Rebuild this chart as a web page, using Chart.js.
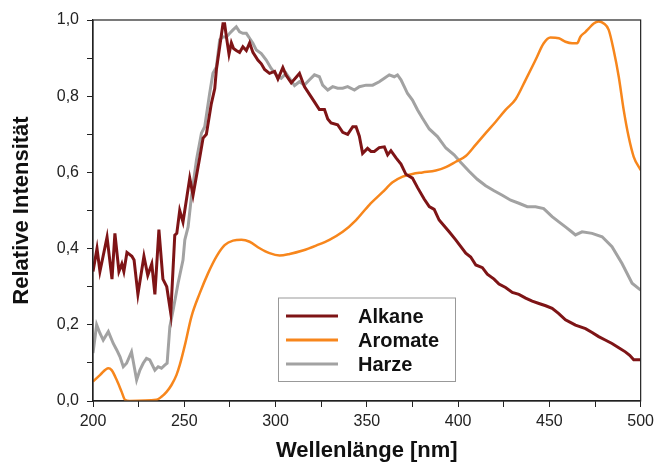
<!DOCTYPE html>
<html>
<head>
<meta charset="utf-8">
<script src="https://cdn.jsdelivr.net/npm/chart.js@4.4.1/dist/chart.umd.min.js"></script>
<style>
  html, body { margin: 0; padding: 0; background: #fff; }
  #wrap { width: 659px; height: 466px; }
</style>
</head>
<body>
<div id="wrap"><canvas id="chart" width="659" height="466"></canvas></div>
<script>
const alkaneNm = [200, 202.2, 203.8, 207.7, 210.4, 212, 214.2, 215.8, 216.9, 218.6, 221.3, 222.5, 224.6, 227.9, 230, 232.2, 233.9, 236.1, 238.3, 240.4, 242.6, 244.8, 245.9, 247.5, 249.3, 253, 254.8, 258.5, 260.3, 262.1, 264.8, 266.7, 267.6, 269.4, 271.2, 272.1, 273.1, 274.5, 275.8, 277, 278.5, 280.3, 282.1, 284, 285.8, 287.6, 290.3, 292.2, 294, 296.7, 299.5, 301.3, 304, 305.8, 308.6, 311.3, 313.1, 315.8, 318.6, 321.3, 324, 326.8, 328.6, 330.4, 334, 336.8, 339.5, 342.3, 344.1, 345.9, 347.7, 350.4, 352.3, 354.1, 356.8, 359.6, 361.4, 363.2, 366, 368.7, 371.4, 375, 377.8, 381.4, 384.2, 386.9, 389.6, 392.3, 395.1, 398.7, 401.5, 404.2, 406.9, 409.7, 413.3, 416, 419.7, 422.4, 426, 429.7, 433.3, 437, 440.6, 444.3, 448, 451.5, 455, 458.8, 462, 464.3, 469.8, 473.4, 477, 480.6, 484.3, 488, 491.6, 494, 496.2, 500];
const alkaneVal = [0.34, 0.40, 0.34, 0.43, 0.32, 0.44, 0.34, 0.36, 0.34, 0.39, 0.38, 0.37, 0.28, 0.38, 0.33, 0.36, 0.28, 0.45, 0.32, 0.30, 0.23, 0.435, 0.44, 0.50, 0.47, 0.585, 0.54, 0.64, 0.69, 0.70, 0.78, 0.82, 0.87, 0.93, 0.99, 0.99, 0.955, 0.91, 0.94, 0.925, 0.92, 0.915, 0.93, 0.92, 0.94, 0.915, 0.895, 0.885, 0.87, 0.86, 0.865, 0.845, 0.875, 0.855, 0.835, 0.85, 0.86, 0.825, 0.805, 0.785, 0.765, 0.765, 0.74, 0.73, 0.725, 0.705, 0.70, 0.72, 0.72, 0.695, 0.65, 0.663, 0.655, 0.655, 0.665, 0.667, 0.646, 0.657, 0.638, 0.622, 0.595, 0.585, 0.56, 0.53, 0.51, 0.503, 0.475, 0.46, 0.444, 0.423, 0.405, 0.388, 0.378, 0.357, 0.35, 0.333, 0.32, 0.307, 0.298, 0.285, 0.28, 0.27, 0.262, 0.256, 0.25, 0.243, 0.23, 0.213, 0.205, 0.199, 0.19, 0.18, 0.169, 0.16, 0.151, 0.14, 0.129, 0.12, 0.108, 0.108];

const aromateNm = [200, 203.8, 208.4, 210.2, 213, 215.7, 217.5, 220, 234.8, 237.5, 240.3, 243, 245.7, 247.5, 250.5, 253.9, 258.5, 263, 267.6, 272.1, 276.7, 281.3, 285.8, 291.3, 296.7, 302.2, 307.7, 314.9, 322.2, 329.5, 336.8, 344.1, 351.4, 358.6, 364.1, 369.6, 375, 380.5, 387.8, 393.3, 398.7, 404.2, 409.7, 415.1, 420.6, 426, 431.5, 437, 442.4, 446.9, 450.6, 455.2, 458.8, 462.5, 465.2, 467, 469.8, 471.6, 474.3, 477, 479.8, 482.5, 485.2, 488, 490.7, 493.4, 496.2, 500];
const aromateVal = [0.051, 0.068, 0.086, 0.081, 0.055, 0.024, 0.003, 0, 0.003, 0.011, 0.024, 0.042, 0.068, 0.094, 0.15, 0.221, 0.283, 0.335, 0.379, 0.409, 0.421, 0.423, 0.418, 0.401, 0.388, 0.382, 0.386, 0.395, 0.408, 0.423, 0.444, 0.475, 0.515, 0.548, 0.574, 0.589, 0.596, 0.6, 0.605, 0.614, 0.628, 0.643, 0.673, 0.703, 0.733, 0.764, 0.792, 0.843, 0.895, 0.939, 0.954, 0.952, 0.943, 0.939, 0.939, 0.956, 0.969, 0.978, 0.991, 0.996, 0.991, 0.974, 0.921, 0.851, 0.764, 0.694, 0.641, 0.606];

const harzeNm = [200, 202, 203.8, 205.6, 208.4, 211.1, 213, 214.8, 216.6, 218.4, 221.1, 223.9, 225.7, 227.5, 229.3, 231.1, 233.9, 235.7, 237.5, 239.3, 240.6, 242.1, 243.9, 246.6, 249.3, 250.3, 252.1, 253.9, 256.7, 259.4, 261.2, 263.9, 265.7, 267.6, 269.4, 271.2, 273, 274.9, 276.7, 278.5, 280.3, 282.1, 284, 285.8, 287.6, 289.5, 292.2, 294.9, 297.6, 300.4, 303.1, 305.8, 308.6, 310.4, 313.1, 315.8, 318.6, 321.3, 324, 325.8, 328.6, 331.3, 334, 336.8, 339.5, 343.2, 345.9, 349.6, 353.2, 356.8, 359.6, 362.3, 365, 366.8, 368.7, 370.5, 372.3, 375, 377.8, 380.5, 384.2, 388.7, 393.3, 397.8, 401.5, 406, 410.5, 415.1, 419.7, 424.2, 428.8, 433.3, 437.9, 442.4, 446.9, 451.5, 455.2, 458.8, 462, 464.3, 467.9, 473.4, 478.9, 484.3, 489.8, 495.3, 500];
const harzeVal = [0.126, 0.20, 0.178, 0.16, 0.182, 0.151, 0.134, 0.116, 0.09, 0.099, 0.129, 0.055, 0.081, 0.099, 0.112, 0.108, 0.081, 0.09, 0.086, 0.094, 0.099, 0.195, 0.239, 0.309, 0.37, 0.423, 0.457, 0.536, 0.633, 0.703, 0.72, 0.807, 0.86, 0.877, 0.948, 0.956, 0.955, 0.965, 0.974, 0.982, 0.969, 0.965, 0.965, 0.952, 0.939, 0.921, 0.912, 0.895, 0.873, 0.856, 0.847, 0.86, 0.84, 0.828, 0.838, 0.829, 0.843, 0.856, 0.851, 0.829, 0.816, 0.825, 0.821, 0.821, 0.825, 0.816, 0.825, 0.829, 0.829, 0.838, 0.847, 0.856, 0.851, 0.856, 0.843, 0.825, 0.807, 0.79, 0.764, 0.742, 0.714, 0.694, 0.664, 0.646, 0.626, 0.603, 0.582, 0.565, 0.552, 0.54, 0.527, 0.519, 0.51, 0.51, 0.505, 0.484, 0.47, 0.457, 0.445, 0.436, 0.444, 0.44, 0.431, 0.405, 0.361, 0.309, 0.291];

const seriesNames = ['Alkane', 'Aromate', 'Harze'];
const xTitle = 'Wellenlänge [nm]';
const yTitle = 'Relative Intensität';

const pts = (xs, ys) => xs.map((x, i) => ({ x: x, y: ys[i] }));
const FONT = 'Arial, "Liberation Sans", Helvetica, sans-serif';

// box around the plot area + legend box inside it
const framePlugin = {
    id: 'frame',
    afterDraw(chart) {
        const c = chart.ctx;
        const a = chart.chartArea;
        c.save();
        c.strokeStyle = '#222';
        c.lineWidth = 1.2;
        c.strokeRect(a.left, a.top, a.right - a.left, a.bottom - a.top);

        // legend
        const bx = 278, by = 297.5, bw = 177, bh = 83.5;
        c.fillStyle = '#fff';
        c.fillRect(bx, by, bw, bh);
        c.strokeStyle = '#999';
        c.lineWidth = 1;
        c.strokeRect(bx + 0.5, by + 0.5, bw, bh);
        c.font = 'bold 20px ' + FONT;
        c.textBaseline = 'middle';
        chart.data.datasets.forEach((ds, i) => {
            const yy = 316 + i * 24;
            c.strokeStyle = ds.borderColor;
            c.lineWidth = 3;
            c.beginPath();
            c.moveTo(286, yy);
            c.lineTo(338, yy);
            c.stroke();
            c.fillStyle = '#111';
            c.fillText(ds.label, 358, yy + 1);
        });
        c.restore();
    }
};

const ctx = document.getElementById('chart').getContext('2d');

new Chart(ctx, {
    type: 'line',
    data: {
        datasets: [
            {
                label: seriesNames[0],
                data: pts(alkaneNm, alkaneVal),
                borderColor: '#7e1416',
                borderWidth: 3,
                pointRadius: 0,
                tension: 0
            },
            {
                label: seriesNames[1],
                data: pts(aromateNm, aromateVal),
                borderColor: '#f7861c',
                borderWidth: 2.5,
                pointRadius: 0,
                cubicInterpolationMode: 'monotone'
            },
            {
                label: seriesNames[2],
                data: pts(harzeNm, harzeVal),
                borderColor: '#a2a2a2',
                borderWidth: 3,
                pointRadius: 0,
                tension: 0
            }
        ]
    },
    options: {
        responsive: false,
        animation: false,
        layout: { padding: { top: 20, right: 17, left: 0, bottom: 0 } },
        plugins: {
            legend: { display: false },
            tooltip: { enabled: false }
        },
        scales: {
            x: {
                type: 'linear',
                min: 200,
                max: 500,
                afterFit: s => { s.height = 65; },
                border: { display: true, color: '#222', width: 1.2 },
                grid: { drawOnChartArea: false, tickLength: 6, color: '#222', tickColor: '#222' },
                ticks: {
                    stepSize: 25,
                    color: '#222',
                    padding: 5,
                    maxRotation: 0,
                    font: { family: FONT, size: 16 },
                    callback: v => (v % 50 === 0 ? String(v) : '')
                },
                title: {
                    display: true,
                    text: xTitle,
                    color: '#111',
                    font: { family: FONT, size: 22, weight: 'bold' },
                    padding: { top: 4, bottom: 1.5 }
                }
            },
            y: {
                min: 0,
                max: 1,
                afterFit: s => { s.width = 93; },
                border: { display: true, color: '#222', width: 1.2 },
                grid: { drawOnChartArea: false, tickLength: 6, color: '#222', tickColor: '#222' },
                ticks: {
                    stepSize: 0.1,
                    color: '#222',
                    padding: 8,
                    font: { family: FONT, size: 16 },
                    callback: v => {
                        const r = Math.round(v * 10);
                        return r % 2 === 0 ? (r / 10).toFixed(1).replace('.', ',') : '';
                    }
                },
                title: {
                    display: true,
                    text: yTitle,
                    color: '#111',
                    font: { family: FONT, size: 22, weight: 'bold' },
                    padding: { top: 9, bottom: 4 }
                }
            }
        }
    },
    plugins: [framePlugin]
});
</script>
</body>
</html>
